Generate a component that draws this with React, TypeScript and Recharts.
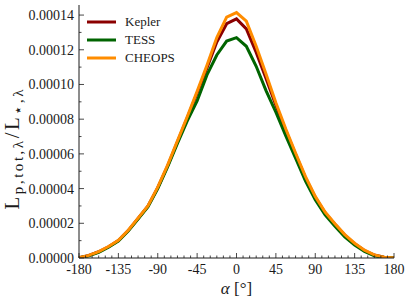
import React from 'react';
import { LineChart, Line, XAxis, YAxis, Legend } from 'recharts';

// phase angle samples (deg)
const ALPHA = [
  -180, -168.75, -157.5, -146.25, -135, -123.75, -112.5, -101.25, -90, -78.75, -67.5,
  -56.25, -45, -33.75, -22.5, -11.25, 0, 11.25, 22.5, 33.75, 45, 56.25, 67.5, 78.75,
  90, 101.25, 112.5, 123.75, 135, 146.25, 157.5, 168.75, 180,
];

// flux ratios in units of 1e-5
const KEPLER = [
  0.02, 0.15, 0.36, 0.65, 1.0, 1.58, 2.28, 2.98, 4.05, 5.3, 6.7, 8.08, 9.5, 10.95, 12.45,
  13.5, 13.78, 13.2, 11.85, 10.35, 8.8, 7.35, 5.97, 4.63, 3.5, 2.6, 1.94, 1.32, 0.82,
  0.43, 0.17, 0.05, 0,
];
const TESS = [
  0.01, 0.12, 0.33, 0.62, 0.98, 1.55, 2.25, 2.95, 4.0, 5.25, 6.6, 7.9, 9.05, 10.55, 11.7,
  12.5, 12.7, 12.2, 11.05, 9.65, 8.4, 7.05, 5.75, 4.45, 3.35, 2.48, 1.83, 1.22, 0.75,
  0.38, 0.13, 0.03, 0,
];
const CHEOPS = [
  0.02, 0.15, 0.37, 0.66, 1.02, 1.6, 2.3, 3.0, 4.08, 5.35, 6.75, 8.15, 9.6, 11.1, 12.7,
  13.88, 14.14, 13.65, 12.2, 10.6, 8.95, 7.45, 6.05, 4.7, 3.55, 2.65, 1.98, 1.35, 0.85,
  0.45, 0.18, 0.05, 0,
];
const UNIT = 1e-5;

const SERIES_NAMES = ['Kepler', 'TESS', 'CHEOPS'];
const X_MAJOR = [-180, -135, -90, -45, 0, 45, 90, 135, 180];
const Y_MAJOR = [0, 0.00002, 0.00004, 0.00006, 0.00008, 0.0001, 0.00012, 0.00014];

const data = ALPHA.map((a, i) => ({
  alpha: a,
  kepler: KEPLER[i] * UNIT,
  tess: TESS[i] * UNIT,
  cheops: CHEOPS[i] * UNIT,
}));

const xTicks = Array.from({ length: 49 }, (_, i) => -180 + 7.5 * i);
const yTicks = Array.from({ length: 15 }, (_, i) => i * UNIT);

const SERIF = 'Liberation Serif';
const INK = '#1a1a1a';

const isXMajor = (v: number) => X_MAJOR.includes(v);
const isYMajor = (v: number) => Y_MAJOR.some((m) => Math.abs(m - v) < 1e-9);

function BottomTick({ x, y, payload }: any) {
  const major = isXMajor(payload.value);
  return (
    <g>
      <line x1={x} y1={y} x2={x} y2={y - (major ? 5 : 2.5)} stroke={INK} strokeWidth={0.8} />
      {major && (
        <text x={x} y={y + 16} textAnchor="middle" style={{ fontFamily: SERIF, fontSize: 14 }} fill={INK}>
          {payload.value}
        </text>
      )}
    </g>
  );
}

function TopTick({ x, y, payload }: any) {
  const major = isXMajor(payload.value);
  return <line x1={x} y1={y} x2={x} y2={y + (major ? 5 : 2.5)} stroke={INK} strokeWidth={0.8} />;
}

function LeftTick({ x, y, payload }: any) {
  const major = isYMajor(payload.value);
  return (
    <g>
      <line x1={x} y1={y} x2={x + (major ? 5 : 2.5)} y2={y} stroke={INK} strokeWidth={0.8} />
      {major && (
        <text x={x - 5} y={y + 5} textAnchor="end" style={{ fontFamily: SERIF, fontSize: 14 }} fill={INK}>
          {payload.value.toFixed(5)}
        </text>
      )}
    </g>
  );
}

function RightTick({ x, y, payload }: any) {
  const major = isYMajor(payload.value);
  return <line x1={x} y1={y} x2={x - (major ? 5 : 2.5)} y2={y} stroke={INK} strokeWidth={0.8} />;
}

function XTitle({ viewBox }: any) {
  const { x, y, width } = viewBox;
  return (
    <text x={x + width / 2} y={y + 36} textAnchor="middle" style={{ fontFamily: SERIF, fontSize: 17 }} fill={INK}>
      <tspan fontStyle="italic">α</tspan> [°]
    </text>
  );
}

function YTitle({ viewBox }: any) {
  const cx = viewBox.x + 19;
  const cy = viewBox.y + viewBox.height / 2 + 18;
  return (
    <text
      x={cx}
      y={cy}
      transform={`rotate(-90, ${cx}, ${cy})`}
      textAnchor="middle"
      style={{ fontFamily: SERIF, fontSize: 21 }}
      fill={INK}
      textLength={120}
      lengthAdjust="spacing"
    >
      L<tspan style={{ fontSize: 15 }} dy={4}>p,tot,λ</tspan>
      <tspan dy={-4}>/L</tspan>
      <tspan style={{ fontSize: 15 }} dy={4}>⋆,λ</tspan>
    </text>
  );
}

function LegendBox({ payload }: any) {
  const items = SERIES_NAMES.map((n) => (payload || []).find((p: any) => p.value === n)).filter(Boolean);
  return (
    <div>
      {items.map((p: any) => (
        <div key={p.value} style={{ display: 'flex', alignItems: 'center', height: 18 }}>
          <svg width={29} height={4} style={{ display: 'block' }}>
            <line x1={0} y1={2} x2={29} y2={2} stroke={p.color} strokeWidth={3} />
          </svg>
          <span style={{ marginLeft: 9, fontFamily: SERIF, fontSize: 13, color: INK, lineHeight: '18px' }}>
            {p.value}
          </span>
        </div>
      ))}
    </div>
  );
}

export default function App() {
  return (
    <div style={{ width: 407, height: 304, background: '#fff' }}>
      <style>{`body{margin:0}`}</style>
      <LineChart width={407} height={304} data={data} margin={{ top: 5, right: 13, bottom: 0, left: 0 }}>
        <XAxis
          xAxisId="b"
          dataKey="alpha"
          type="number"
          domain={[-180, 180]}
          ticks={xTicks}
          interval={0}
          height={46}
          tickSize={0}
          tickMargin={0}
          tickLine={false}
          axisLine={{ stroke: INK }}
          tick={<BottomTick />}
          label={<XTitle />}
        />
        <XAxis
          xAxisId="t"
          orientation="top"
          dataKey="alpha"
          type="number"
          domain={[-180, 180]}
          ticks={xTicks}
          interval={0}
          height={0}
          tickSize={0}
          tickMargin={0}
          tickLine={false}
          axisLine={{ stroke: INK }}
          tick={<TopTick />}
        />
        <YAxis
          yAxisId="l"
          type="number"
          domain={[0, 0.0001458]}
          allowDataOverflow
          ticks={yTicks}
          interval={0}
          width={79}
          tickSize={0}
          tickMargin={0}
          tickLine={false}
          axisLine={{ stroke: INK }}
          tick={<LeftTick />}
          label={<YTitle />}
        />
        <YAxis
          yAxisId="r"
          orientation="right"
          type="number"
          domain={[0, 0.0001458]}
          allowDataOverflow
          ticks={yTicks}
          interval={0}
          width={0}
          tickSize={0}
          tickMargin={0}
          tickLine={false}
          axisLine={{ stroke: INK }}
          tick={<RightTick />}
        />
        <Legend
          layout="vertical"
          align="center"
          verticalAlign="middle"
          wrapperStyle={{ top: 13, left: 87, width: 'auto', height: 'auto' }}
          content={<LegendBox />}
        />
        <Line xAxisId="b" yAxisId="l" type="linear" dataKey="kepler" name="Kepler" stroke="#8b0000" strokeWidth={3} dot={false} isAnimationActive={false} />
        <Line xAxisId="b" yAxisId="l" type="linear" dataKey="tess" name="TESS" stroke="#006400" strokeWidth={3} dot={false} isAnimationActive={false} />
        <Line xAxisId="b" yAxisId="l" type="linear" dataKey="cheops" name="CHEOPS" stroke="#ff8c00" strokeWidth={3} dot={false} isAnimationActive={false} />
      </LineChart>
    </div>
  );
}
